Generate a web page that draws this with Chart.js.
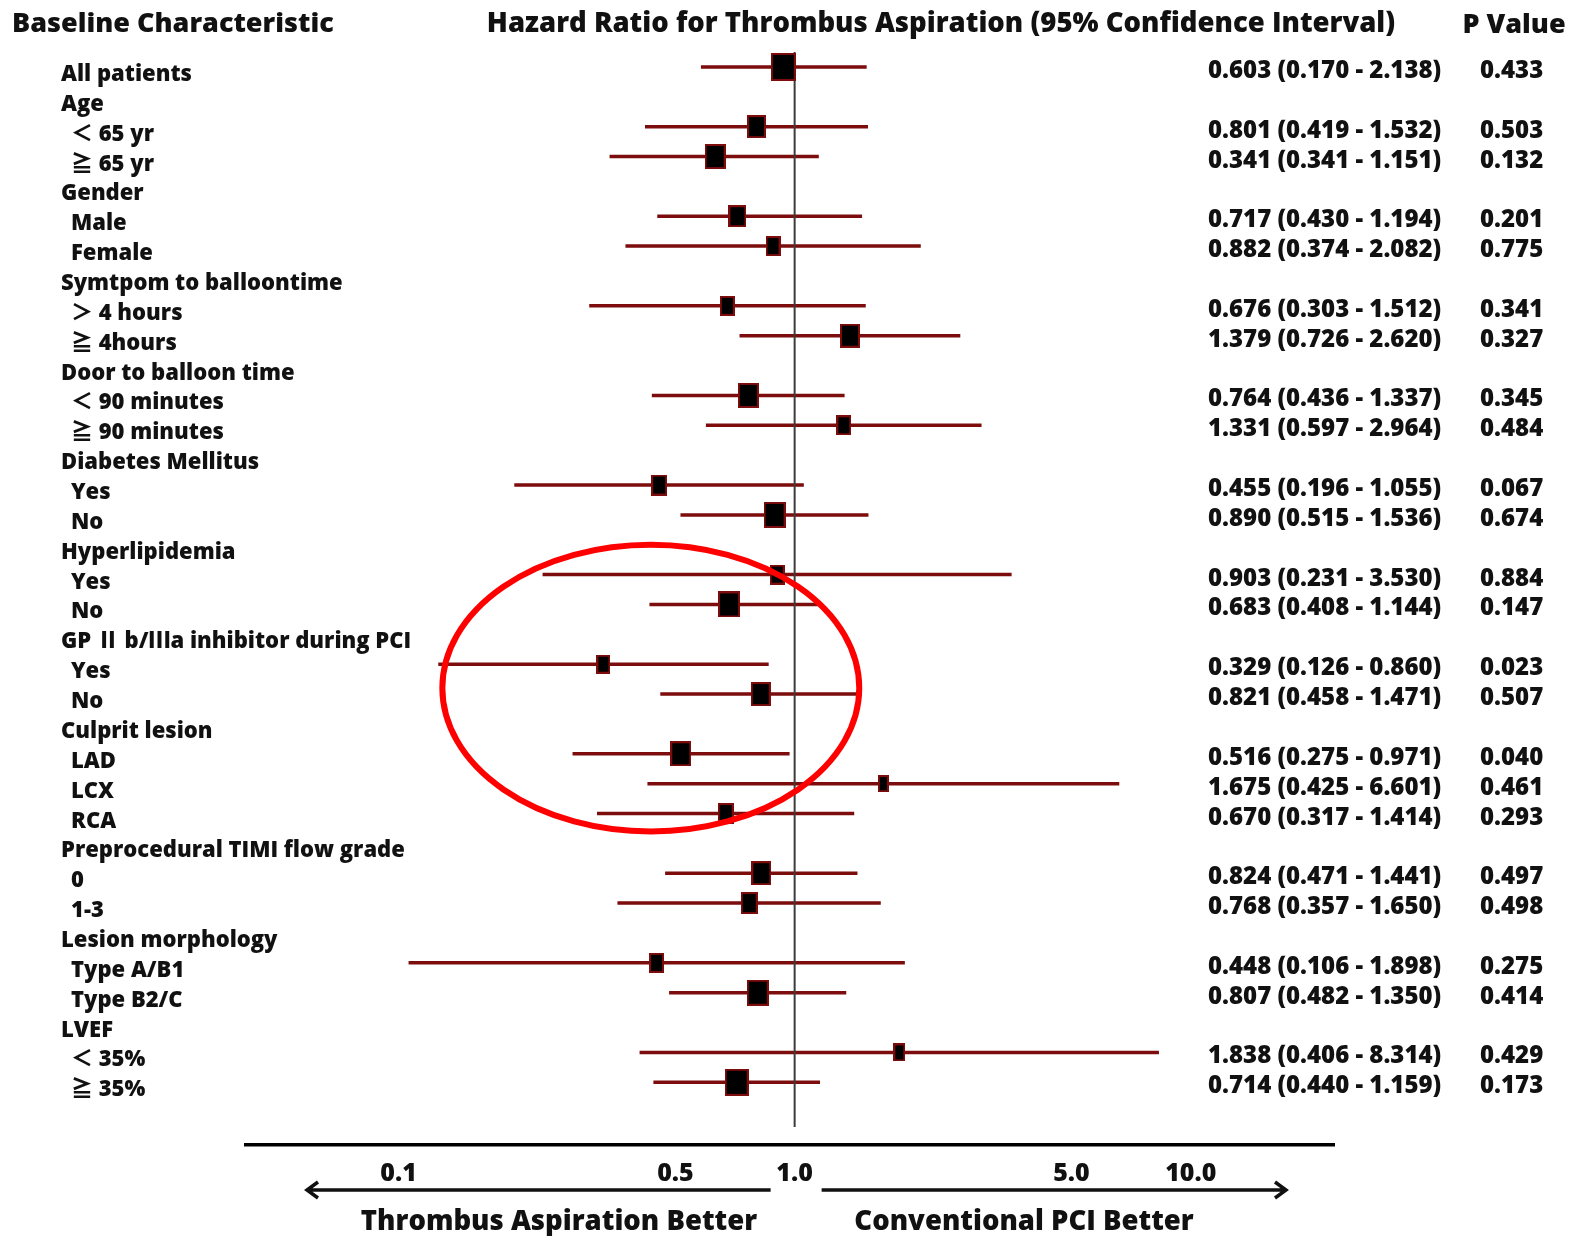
<!DOCTYPE html>
<html>
<head>
<meta charset="utf-8">
<script src="https://cdn.jsdelivr.net/npm/chart.js@4.4.1/dist/chart.umd.min.js"></script>
<style>
  html, body { margin: 0; padding: 0; background: #fff; }
  canvas { display: block; }
</style>
</head>
<body>
<canvas id="forestPlot" width="1573" height="1236"></canvas>
<script>
// rows from top to bottom, group headers carry no estimate
const rowLabels = [
    'All patients', 'Age', '＜ 65 yr', '≧ 65 yr', 'Gender', 'Male', 'Female',
    'Symtpom to balloontime', '＞ 4 hours', '≧ 4hours', 'Door to balloon time', '＜ 90 minutes', '≧ 90 minutes',
    'Diabetes Mellitus', 'Yes', 'No', 'Hyperlipidemia', 'Yes', 'No',
    'GP Ⅱ b/Ⅲa inhibitor during PCI', 'Yes', 'No', 'Culprit lesion', 'LAD', 'LCX', 'RCA',
    'Preprocedural TIMI flow grade', '0', '1-3', 'Lesion morphology', 'Type A/B1', 'Type B2/C',
    'LVEF', '＜ 35%', '≧ 35%'
];

const estimateText = [
    '0.603 (0.170 - 2.138)', null, '0.801 (0.419 - 1.532)', '0.341 (0.341 - 1.151)', null, '0.717 (0.430 - 1.194)', '0.882 (0.374 - 2.082)',
    null, '0.676 (0.303 - 1.512)', '1.379 (0.726 - 2.620)', null, '0.764 (0.436 - 1.337)', '1.331 (0.597 - 2.964)',
    null, '0.455 (0.196 - 1.055)', '0.890 (0.515 - 1.536)', null, '0.903 (0.231 - 3.530)', '0.683 (0.408 - 1.144)',
    null, '0.329 (0.126 - 0.860)', '0.821 (0.458 - 1.471)', null, '0.516 (0.275 - 0.971)', '1.675 (0.425 - 6.601)', '0.670 (0.317 - 1.414)',
    null, '0.824 (0.471 - 1.441)', '0.768 (0.357 - 1.650)', null, '0.448 (0.106 - 1.898)', '0.807 (0.482 - 1.350)',
    null, '1.838 (0.406 - 8.314)', '0.714 (0.440 - 1.159)'
];

const pValues = [
    '0.433', null, '0.503', '0.132', null, '0.201', '0.775',
    null, '0.341', '0.327', null, '0.345', '0.484',
    null, '0.067', '0.674', null, '0.884', '0.147',
    null, '0.023', '0.507', null, '0.040', '0.461', '0.293',
    null, '0.497', '0.498', null, '0.275', '0.414',
    null, '0.429', '0.173'
];

// hazard ratio and 95% CI as they are plotted in the figure
const hazardRatio = [
    0.936, null, 0.801, 0.63, null, 0.717, 0.882,
    null, 0.676, 1.379, null, 0.764, 1.331,
    null, 0.455, 0.890, null, 0.903, 0.683,
    null, 0.329, 0.821, null, 0.516, 1.675, 0.670,
    null, 0.824, 0.768, null, 0.448, 0.807,
    null, 1.838, 0.714
];

const ciLower = [
    0.58, null, 0.419, 0.341, null, 0.45, 0.374,
    null, 0.303, 0.726, null, 0.436, 0.597,
    null, 0.196, 0.515, null, 0.231, 0.43,
    null, 0.126, 0.458, null, 0.275, 0.425, 0.317,
    null, 0.471, 0.357, null, 0.106, 0.482,
    null, 0.406, 0.440
];

const ciUpper = [
    1.52, null, 1.532, 1.151, null, 1.48, 2.082,
    null, 1.512, 2.620, null, 1.337, 2.964,
    null, 1.055, 1.536, null, 3.530, 1.144,
    null, 0.860, 1.471, null, 0.971, 6.601, 1.414,
    null, 1.441, 1.650, null, 1.898, 1.350,
    null, 8.314, 1.159
];

// relative weight of each subgroup box
const boxWeight = [
    0.98, null, 0.76, 0.82, null, 0.72, 0.59,
    null, 0.60, 0.79, null, 0.82, 0.59,
    null, 0.63, 0.88, null, 0.59, 0.86,
    null, 0.56, 0.78, null, 0.82, 0.45, 0.63,
    null, 0.80, 0.68, null, 0.59, 0.86,
    null, 0.48, 0.96
];

const tickValues = [0.1, 0.5, 1, 5, 10];
const tickLabels = ['0.1', '0.5', '1.0', '5.0', '10.0'];

// red ring drawn over the figure, in data units
const highlight = { xMin: 0.129, xMax: 1.456, yMin: 16.0, yMax: 25.6 };

const lineRed = '#7d0d0d';
const textColor = '#111';
const fontFamily = "'Open Sans', 'Noto Sans CJK JP', sans-serif";

function makeBox(weight) {
    const w = Math.round(25 * weight);
    const h = Math.round(0.8 * w + 8);
    const c = document.createElement('canvas');
    c.width = w;
    c.height = h;
    const g = c.getContext('2d');
    g.fillStyle = lineRed;
    g.fillRect(0, 0, w, h);
    g.fillStyle = '#000';
    g.fillRect(2, 2, w - 4, h - 4);
    return c;
}

const rowsWithData = rowLabels.map((_, i) => i).filter(i => hazardRatio[i] !== null);

const ciPoints = [];
rowsWithData.forEach(i => {
    ciPoints.push({ x: ciLower[i], y: i }, { x: ciUpper[i], y: i }, { x: null, y: i });
});
const boxPoints = rowsWithData.map(i => ({ x: hazardRatio[i], y: i }));
const boxImages = rowsWithData.map(i => makeBox(boxWeight[i]));
const refLine = [{ x: 1, y: -0.5 }, { x: 1, y: 35.5 }];

function drawArrow(g, x1, x2, y) {
    const dir = x2 > x1 ? 1 : -1;
    g.beginPath();
    g.moveTo(x1, y);
    g.lineTo(x2, y);
    g.moveTo(x2 - dir * 11, y - 8);
    g.lineTo(x2, y);
    g.lineTo(x2 - dir * 11, y + 8);
    g.stroke();
}

const forestText = {
    id: 'forestText',
    afterDatasetsDraw(chart) {
        const xs = chart.scales.x;
        const ys = chart.scales.y;
        const g = chart.ctx;
        const x1 = xs.getPixelForValue(highlight.xMin);
        const x2 = xs.getPixelForValue(highlight.xMax);
        const y1 = ys.getPixelForValue(highlight.yMin);
        const y2 = ys.getPixelForValue(highlight.yMax);
        g.save();
        g.strokeStyle = '#ff0000';
        g.lineWidth = 6;
        g.beginPath();
        g.ellipse((x1 + x2) / 2, (y1 + y2) / 2, (x2 - x1) / 2, (y2 - y1) / 2, 0, 0, Math.PI * 2);
        g.stroke();
        g.restore();
    },
    afterDraw(chart) {
        const xs = chart.scales.x;
        const ys = chart.scales.y;
        const g = chart.ctx;
        g.save();
        g.fillStyle = textColor;
        g.textBaseline = 'alphabetic';

        // column headers
        g.font = `800 27px ${fontFamily}`;
        g.textAlign = 'left';
        g.fillText('Baseline Characteristic', 12, 32);
        g.textAlign = 'center';
        g.font = `800 27.5px ${fontFamily}`;
        g.fillText('Hazard Ratio for Thrombus Aspiration (95% Confidence Interval)', 941, 32);
        g.font = `800 27px ${fontFamily}`;
        g.fillText('P Value', 1514, 33);

        // row labels, estimates and p values
        g.textAlign = 'left';
        rowLabels.forEach((label, i) => {
            const y = ys.getPixelForValue(i);
            const indent = hazardRatio[i] !== null && i > 0;
            g.font = `800 22px ${fontFamily}`;
            g.fillText(label, indent ? 71 : 61, y + 14);
            if (estimateText[i]) {
                g.font = `800 24px ${fontFamily}`;
                g.fillText(estimateText[i], 1208, y + 11);
                g.fillText(pValues[i], 1480, y + 11);
            }
        });

        // direction arrows under the axis
        const one = xs.getPixelForValue(1);
        g.strokeStyle = textColor;
        g.lineWidth = 3.5;
        drawArrow(g, one - 24, xs.left + 61, 1190);
        drawArrow(g, one + 27, xs.right - 48, 1190);

        g.font = `800 27.5px ${fontFamily}`;
        g.textAlign = 'center';
        g.fillText('Thrombus Aspiration Better', 559, 1230);
        g.fillText('Conventional PCI Better', 1024, 1230);
        g.restore();
    }
};

const forestCtx = document.getElementById('forestPlot').getContext('2d');

new Chart(forestCtx, {
    type: 'scatter',
    data: {
        datasets: [
            {
                type: 'scatter',
                data: boxPoints,
                pointStyle: (c) => boxImages[c.dataIndex],
                pointRadius: 10,
                pointHoverRadius: 10
            },
            {
                type: 'line',
                data: refLine,
                borderColor: '#3c3c3c',
                borderWidth: 2,
                pointRadius: 0
            },
            {
                type: 'line',
                data: ciPoints,
                borderColor: lineRed,
                borderWidth: 3.5,
                pointRadius: 0,
                spanGaps: false
            }
        ]
    },
    options: {
        responsive: false,
        animation: false,
        events: [],
        layout: { padding: { left: 246, right: 239, top: 52, bottom: 46 } },
        plugins: {
            legend: { display: false },
            tooltip: { enabled: false }
        },
        scales: {
            x: {
                type: 'logarithmic',
                min: 0.0412,
                max: 23,
                afterFit: (s) => { s.height = 45; },
                afterBuildTicks: (s) => { s.ticks = tickValues.map(v => ({ value: v })); },
                grid: { display: false, drawTicks: false },
                border: { display: true, color: '#000', width: 3.5 },
                ticks: {
                    autoSkip: false,
                    maxRotation: 0,
                    padding: 14,
                    color: textColor,
                    font: { family: fontFamily, size: 25, weight: 800 },
                    callback: (v, i) => tickLabels[i]
                }
            },
            y: {
                type: 'linear',
                reverse: true,
                min: -0.5,
                max: 36.1,
                offset: false,
                display: false
            }
        }
    },
    plugins: [forestText]
});
</script>
</body>
</html>
